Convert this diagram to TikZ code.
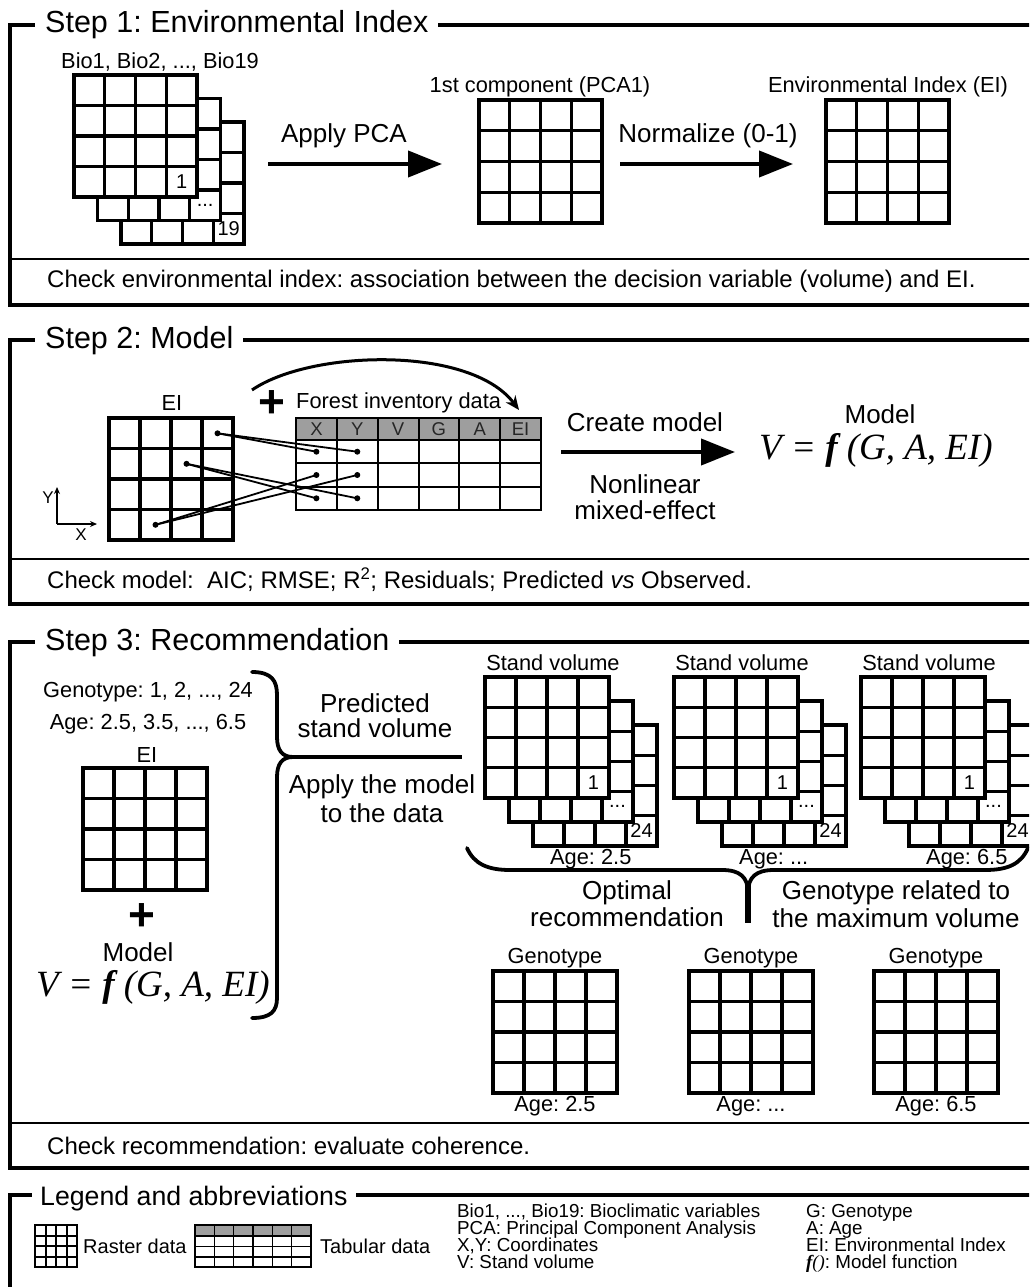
\documentclass[tikz,border=0pt]{standalone}
\usepackage{fontspec}
\setmainfont{Liberation Sans}
\newfontfamily\formfont{Liberation Serif}
\usetikzlibrary{calc,arrows.meta}
\tikzset{
  frame/.style={line width=4.5pt},
  sepline/.style={line width=2.2pt},
  steptitle/.style={anchor=base west, fill=white, inner xsep=10pt, inner ysep=3pt, font=\fontsize{30.5}{32}\selectfont},
  checktext/.style={anchor=west, inner sep=0pt, font=\fontsize{24}{26}\selectfont},
  lab/.style={inner sep=0pt, font=\fontsize{21.8}{24}\selectfont},
  biglab/.style={inner sep=0pt, font=\fontsize{26}{28}\selectfont},
  cellnum/.style={inner sep=0pt, font=\fontsize{20}{20}\selectfont},
  rast/.style={draw, fill=white, anchor=north west, inner sep=0pt, outer sep=0pt},
  bigarrow/.style={line width=4pt, -{Triangle[length=34pt,width=26pt]}},
  formula/.style={inner sep=0pt, font=\fontsize{37}{40}\selectfont\formfont\itshape},
  dot/.style={circle, fill, inner sep=0pt, minimum size=6pt},
  link/.style={line width=1.8pt},
  tabline/.style={line width=2pt},
  hdr/.style={inner sep=0pt, font=\fontsize{18.5}{18.5}\selectfont, text=black!85},
  brace/.style={line width=3.8pt, line join=round, line cap=round},
  abbr/.style={anchor=base west, inner sep=0pt, font=\fontsize{18.8}{19}\selectfont},
  axisarrow/.style={line width=1.8pt, -{Stealth[length=7pt,width=6pt]}},
  smalllab/.style={inner sep=0pt, font=\fontsize{17}{17}\selectfont},
  plussign/.style={inner sep=0pt, font=\fontsize{46}{46}\selectfont\bfseries},
}
\newcommand\rgrid[6]{%
  \node[rast, line width=#6pt, minimum width=#4pt, minimum height=#5pt] (#1) at (#2,#3) {};
  \foreach \k in {1,2,3}{%
    \draw[line width=#6pt] ($(#1.north west)!\k/4!(#1.north east)$) -- ($(#1.south west)!\k/4!(#1.south east)$);
    \draw[line width=#6pt] ($(#1.north west)!\k/4!(#1.south west)$) -- ($(#1.north east)!\k/4!(#1.south east)$);
  }%
}
\newcommand\rstack[8]{%
  \rgrid{#1c}{#2+2*#6}{#3+2*#6}{#4}{#5}{3.2}
  \rgrid{#1b}{#2+#6}{#3+#6}{#4}{#5}{3.2}
  \rgrid{#1a}{#2}{#3}{#4}{#5}{3.2}
  \node[cellnum] (#1na) at ($(#1a.south east)+(-#4/8,-#5/8)$) {#7};
  \node[cellnum] (#1nb) at ($(#1b.south east)+(-#4/8,-#5/8)$) {...};
  \node[cellnum] (#1nc) at ($(#1c.south east)+(-#4/8,-#5/8)$) {#8};
}
\newcommand\vform{V = \textbf{f} (G, A, EI)}
\begin{document}
\frenchspacing
\begin{tikzpicture}[x=1pt,y=-1pt]
\useasboundingbox (0,0) rectangle (1029,1287);
\clip (0,0) rectangle (1029,1287);
\fill[white] (0,0) rectangle (1029,1287);

% ================= Step 1
\draw[frame] (1040,25) -- (10,25) -- (10,305) -- (1040,305);
\draw[sepline] (10,259) -- (1040,259);
\node[steptitle] (s1title) at (35,33) {Step 1: Environmental Index};
\node[checktext] (s1check) at (47,281) {Check environmental index: association between the decision variable (volume) and EI.};
\rstack{bio}{74}{75}{123}{122}{23.5}{1}{19}
\node[lab] (biolab) at (160,62) {Bio1, Bio2, ..., Bio19};
\rgrid{pca}{479}{100}{123}{123}{3.2}
\node[lab] (pcalab) at (540,87) {1st component (PCA1)};
\rgrid{eione}{826}{100}{123}{123}{3.2}
\node[lab] (eionelab) at (888,87) {Environmental Index (EI)};
\coordinate (a1s) at (268,164);
\coordinate (a1e) at (442,164);
\draw[bigarrow] (a1s) -- (a1e);
\node[biglab] (a1lab) at (344,136) {Apply PCA};
\coordinate (a2s) at (620,164);
\coordinate (a2e) at (793,164);
\draw[bigarrow] (a2s) -- (a2e);
\node[biglab] (a2lab) at (708,136) {Normalize (0-1)};

% ================= Step 2
\draw[frame] (1040,340) -- (10,340) -- (10,604) -- (1040,604);
\draw[sepline] (10,559) -- (1040,559);
\node[steptitle] (s2title) at (35,348) {Step 2: Model};
\node[checktext] (s2check) at (47,580) {Check model:\ \ AIC; RMSE; R\textsuperscript{2}; Residuals; Predicted \textit{vs} Observed.};
\rgrid{eitwo}{109}{418}{124}{122}{3.2}
\node[lab] (eitwolab) at (172,403) {EI};
\coordinate (ax0) at (57,524);
\coordinate (axy) at (57,487);
\coordinate (axx) at (97,524);
\draw[axisarrow] (ax0) -- (axy);
\draw[axisarrow] (ax0) -- (axx);
\node[smalllab] (ylab) at (48,498) {Y};
\node[smalllab] (xlab) at (81,535) {X};
\node[plussign] (plus2) at (272,404) {+};
\node[lab, anchor=west] (fid) at (296,403) {Forest inventory data};
\node[fill=black!38, minimum width=245pt, minimum height=22pt, anchor=north west, inner sep=0pt, outer sep=0pt] (tabhead) at (296,418) {};
\node[draw, line width=2pt, minimum width=245pt, minimum height=92pt, anchor=north west, inner sep=0pt, outer sep=0pt] (tab) at (296,418) {};
\foreach \k in {1,...,5}{
  \draw[tabline] ($(tab.north west)!\k/6!(tab.north east)$) -- ($(tab.south west)!\k/6!(tab.south east)$);
}
\foreach \d in {22,45.3,68.7}{
  \draw[tabline] ($(tab.north west)+(0,\d)$) -- ($(tab.north east)+(0,\d)$);
}
\foreach \t [count=\k] in {X,Y,V,G,A,EI}{
  \node[hdr] (h\k) at ($(tab.north west)+(-20.4+40.83*\k,11.5)$) {\t};
}
\node[dot] (e14) at (217.5,433.3) {};
\node[dot] (e23) at (186.5,463.8) {};
\node[dot] (e42) at (155.5,524.8) {};
\node[dot] (t1x) at (316.4,451.7) {};
\node[dot] (t1y) at (357.3,451.7) {};
\node[dot] (t2x) at (316.4,475) {};
\node[dot] (t2y) at (357.3,475) {};
\node[dot] (t3x) at (316.4,498.3) {};
\node[dot] (t3y) at (357.3,498.3) {};
\draw[link] (e14.center) -- (t1x.center);
\draw[link] (e14.center) -- (t1y.center);
\draw[link] (e23.center) -- (t3x.center);
\draw[link] (e23.center) -- (t3y.center);
\draw[link] (e42.center) -- (t2x.center);
\draw[link] (e42.center) -- (t2y.center);
\coordinate (cvs) at (252,390);
\coordinate (cve) at (519,410);
\draw[line width=3pt, -{Stealth[length=14pt,width=12pt]}] (cvs) .. controls (310,350) and (470,345) .. (cve);
\coordinate (a3s) at (561,452);
\coordinate (a3e) at (735,452);
\draw[bigarrow] (a3s) -- (a3e);
\node[biglab] (a3lab) at (645,422) {Create model};
\node[biglab] (a3labb) at (645,484) {Nonlinear};
\node[biglab] (a3labc) at (645,510) {mixed-effect};
\node[biglab] (modlab) at (880,414) {Model};
\node[formula] (form2) at (876,450) {\vform};

% ================= Step 3
\draw[frame] (1040,642) -- (10,642) -- (10,1168) -- (1040,1168);
\draw[sepline] (10,1123) -- (1040,1123);
\node[steptitle] (s3title) at (35,650) {Step 3: Recommendation};
\node[checktext] (s3check) at (47,1146) {Check recommendation: evaluate coherence.};
\node[lab] (genolist) at (148,692) {Genotype: 1, 2, ..., 24};
\node[lab] (agelist) at (148,724) {Age: 2.5, 3.5, ..., 6.5};
\node[lab] (eithreelab) at (147,755) {EI};
\rgrid{eithree}{83}{768}{124}{122}{3.2}
\node[plussign] (plus3) at (142,917) {+};
\node[biglab] (modlab3) at (138,952) {Model};
\node[formula] (form3) at (153,987) {\vform};
\draw[brace] (252,672) .. controls (272,672) and (277,681) .. (277,695) -- (277,737) .. controls (277,750) and (282,757) .. (293,757) .. controls (282,757) and (277,764) .. (277,777) -- (277,998) .. controls (277,1011) and (271,1018) .. (252,1018);
\coordinate (btip) at (293,757);
\coordinate (bline) at (462,757);
\draw[line width=3.8pt] (btip) -- (bline);
\node[biglab] (predl1) at (375,703) {Predicted};
\node[biglab] (predl2) at (375,728) {stand volume};
\node[biglab] (appl1) at (382,787) {Apply the model};
\node[biglab] (appl2) at (382,813) {to the data};

\rstack{sva}{485}{677}{124}{121}{24}{1}{24}
\rstack{svb}{674}{677}{124}{121}{24}{1}{24}
\rstack{svc}{861}{677}{124}{121}{24}{1}{24}
\node[lab] (svla) at (553,663) {Stand volume};
\node[lab] (svlb) at (742,663) {Stand volume};
\node[lab] (svlc) at (929,663) {Stand volume};
\node[lab, anchor=west] (sage1) at (550,859) {Age: 2.5};
\node[lab, anchor=west] (sage2) at (739,859) {Age: ...};
\node[lab, anchor=west] (sage3) at (926,859) {Age: 6.5};

\draw[brace] (467,848) .. controls (474,864) and (488,870) .. (510,870) -- (722,870) .. controls (740,870) and (748,877) .. (748,893);
\draw[brace] (748,893) .. controls (748,877) and (756,870) .. (774,870) -- (985,870) .. controls (1008,870) and (1021,864) .. (1028,848);
\coordinate (stem1) at (748,885);
\coordinate (stem2) at (748,923);
\draw[line width=5.5pt] (stem1) -- (stem2);
\node[biglab] (opt1) at (627,893) {Optimal};
\node[biglab] (opt2) at (627,917) {recommendation};
\node[biglab] (gr1) at (896,893) {Genotype related to};
\node[biglab] (gr2) at (896,918) {the maximum volume};

\rgrid{gta}{493}{971}{124}{122}{3.2}
\rgrid{gtb}{689}{971}{124}{122}{3.2}
\rgrid{gtc}{874}{971}{124}{122}{3.2}
\node[lab] (gtla) at (555,958) {Genotype};
\node[lab] (gtlb) at (751,958) {Genotype};
\node[lab] (gtlc) at (936,958) {Genotype};
\node[lab] (gaa) at (555,1106) {Age: 2.5};
\node[lab] (gab) at (751,1106) {Age: ...};
\node[lab] (gac) at (936,1106) {Age: 6.5};

% ================= Legend
\draw[frame] (1040,1195) -- (10,1195) -- (10,1300);
\node[steptitle, font=\fontsize{26.7}{28}\selectfont, inner xsep=8pt] (ltitle) at (32,1205) {Legend and abbreviations};
\rgrid{lras}{35}{1225}{42}{42}{2}
\node[inner sep=0pt, anchor=west, font=\fontsize{20}{22}\selectfont] (lrastxt) at (83,1246) {Raster data};
\node[fill=black!38, minimum width=116pt, minimum height=11pt, anchor=north west, inner sep=0pt, outer sep=0pt] (ltabh) at (195,1225) {};
\node[draw, line width=1.8pt, minimum width=116pt, minimum height=42pt, anchor=north west, inner sep=0pt, outer sep=0pt] (ltab) at (195,1225) {};
\foreach \k in {1,...,5}{
  \draw[line width=1.6pt] ($(ltab.north west)!\k/6!(ltab.north east)$) -- ($(ltab.south west)!\k/6!(ltab.south east)$);
}
\foreach \d in {11,21.3,31.7}{
  \draw[line width=1.6pt] ($(ltab.north west)+(0,\d)$) -- ($(ltab.north east)+(0,\d)$);
}
\node[inner sep=0pt, anchor=west, font=\fontsize{20}{22}\selectfont] (ltabtxt) at (320,1246) {Tabular data};
\node[abbr] (ab1) at (457,1217) {Bio1, ..., Bio19: Bioclimatic variables};
\node[abbr] (ab2) at (457,1234) {PCA: Principal Component Analysis};
\node[abbr] (ab3) at (457,1251) {X,Y: Coordinates};
\node[abbr] (ab4) at (457,1268) {V: Stand volume};
\node[abbr] (ab5) at (806,1217) {G: Genotype};
\node[abbr] (ab6) at (806,1234) {A: Age};
\node[abbr] (ab7) at (806,1251) {EI: Environmental Index};
\node[abbr] (ab8) at (806,1268) {{\formfont\itshape\textbf{f}()}: Model function};
\end{tikzpicture}
\end{document}
